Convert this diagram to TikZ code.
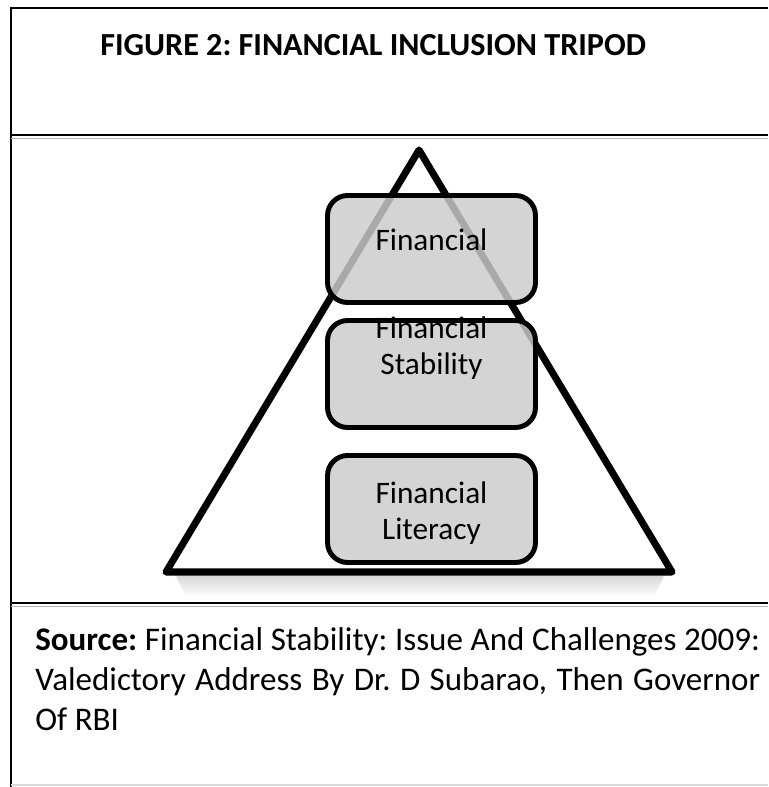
\documentclass[tikz,border=0pt]{standalone}
\usepackage{fontspec}
\setmainfont{Carlito}

\tikzset{
  tripodbox/.style={draw,line width=2.8pt,rounded corners=0.4cm,fill=gray!40,fill opacity=0.83,
    minimum width=4.16cm,minimum height=2.14cm},
  boxlabel/.style={align=center,font=\fontsize{17.8}{20.5}\selectfont}
}

\begin{document}
\begin{tikzpicture}[x=0.02cm,y=-0.02cm]
			\useasboundingbox (0,0) rectangle (768,787);
			% frame and separators
			\draw[line width=1.5pt] (11,787)--(11,8)--(768,8);
			\draw[gray!30,line width=0.8pt] (11,785)--(768,785);
			\draw[line width=1.5pt] (11,135)--(768,135);
			\draw[gray!60,line width=1pt] (11,138.5)--(768,138.5);
			\draw[line width=1.5pt] (11,603)--(768,603);
			\draw[gray!60,line width=1pt] (11,606.5)--(768,606.5);
			\node[anchor=west,inner sep=0pt,font=\bfseries\fontsize{18.3}{20.5}\selectfont\frenchspacing] (title) at (100,45) {FIGURE 2: FINANCIAL INCLUSION TRIPOD};
			% tripod
			\foreach \s [evaluate=\s as \o using 0.09-0.008*\s] in {1,...,10}
				\draw[black,opacity=\o,line width=2pt,line cap=round] (176+\s,574+2*\s)--(664-\s,574+2*\s);
			\draw[line width=4pt,line join=round,fill=white] (419,150)--(672,572)--(166,572)--cycle;
			\node[tripodbox] (incl) at (431.5,249) {};
			\node[tripodbox] (stab) at (431.5,374) {};
			\node[tripodbox] (lit) at (431.5,509) {};
			\node[boxlabel] (incltext) at (431.5,240) {Financial};
			\node[boxlabel] (stabtext) at (431.5,348) {Financial\\Stability};
			\node[boxlabel] (littext) at (431.5,513) {Financial\\Literacy};
			% source
			\node[anchor=north west,inner sep=0pt,text width=14.5cm,align=justify,font=\fontsize{18.8}{22.8}\selectfont\frenchspacing] (source) at (35,627)
				{\textbf{Source:} Financial Stability: Issue And Challenges 2009:\linebreak Valedictory Address By Dr. D Subarao, Then Governor\linebreak Of RBI};
\end{tikzpicture}
\end{document}
